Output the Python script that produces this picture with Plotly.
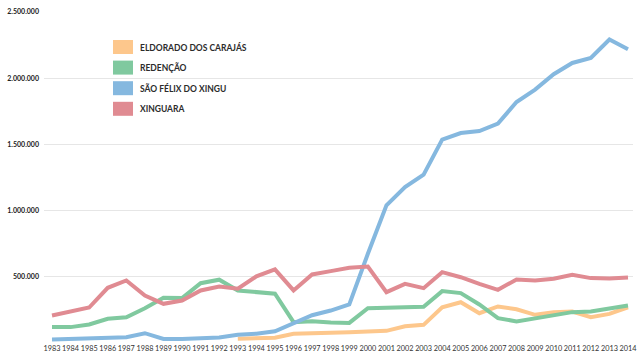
import plotly.graph_objects as go

years = list(range(1983, 2015))

eldorado = [None] * 10 + [32000, 39000, 40000, 70000, 72000, 77000, 82000, 87000, 92000,
                          127000, 137000, 270000, 308000, 225000, 276000, 255000, 213000,
                          233000, 238000, 195000, 220000, 270000]
redencao = [120000, 120000, 140000, 183000, 195000, 263000, 342000, 339000, 452000, 478000,
            397000, 384000, 372000, 157000, 165000, 155000, 152000, 263000, 266000, 274000,
            274000, 392000, 377000, 291000, 188000, 163000, 188000, 213000, 233000, 238000,
            258000, 283000]
sao_felix = [26000, 29000, 31000, 34000, 44000, 74000, 31000, 31000, 36000, 42000,
             62000, 70000, 88000, 150000, 210000, 245000, 291000, 674000, 1040000, 1178000,
             1272000, 1536000, 1586000, 1601000, 1657000, 1820000, 1914000, 2030000, 2115000,
             2153000, 2292000, 2219000]
xinguara = [208000, 240000, 268000, 417000, 472000, 359000, 296000, 321000, 397000, 427000,
            410000, 503000, 556000, 397000, 518000, 543000, 568000, 578000, 384000, 447000,
            414000, 535000, 497000, 447000, 402000, 480000, 472000, 485000, 515000, 490000,
            487000, 495000]

series_names = ["ELDORADO DOS CARAJÁS", "REDENÇÃO", "SÃO FÉLIX DO XINGU", "XINGUARA"]
series_values = [eldorado, redencao, sao_felix, xinguara]
colors = ["#fdc78c", "#80c99f", "#85b8df", "#e08b92"]

y_tickvals = [500000, 1000000, 1500000, 2000000, 2500000]
y_ticktext = ["500.000", "1.000.000", "1.500.000", "2.000.000", "2.500.000"]

W, H = 640, 361
ML, MR, MT, MB = 44, 7, 12, 18
PW, PH = W - ML - MR, H - MT - MB

fig = go.Figure()
for name, vals, col in zip(series_names, series_values, colors):
    fig.add_trace(go.Scatter(x=years, y=vals, mode="lines", name=name,
                             line=dict(color=col, width=4), showlegend=False,
                             hoverinfo="skip"))

# manual legend (squares + labels)
def px2paper(px, py):
    return (px - ML) / PW, (H - MB - py) / PH

for i, (name, col) in enumerate(zip(series_names, colors)):
    top = 40 + i * 20.6
    x0, y0 = px2paper(113, top)
    x1, y1 = px2paper(133, top + 14)
    fig.add_shape(type="rect", xref="paper", yref="paper", x0=x0, x1=x1, y0=y1, y1=y0,
                  fillcolor=col, line=dict(width=0), layer="above")
    tx, ty = px2paper(138, top + 7)
    fig.add_annotation(x=tx, y=ty, xref="paper", yref="paper", text="<b>%s</b>" % name,
                       showarrow=False, xanchor="left", yanchor="middle",
                       font=dict(family="Lato", size=8.5, color="#2b2b2b"))

span = 576 / 31
fig.update_layout(
    width=W, height=H,
    margin=dict(l=ML, r=MR, t=MT, b=MB),
    paper_bgcolor="white", plot_bgcolor="white",
    xaxis=dict(range=[1983 - 8 / span, 2014 + 5 / span], tickmode="array",
               tickvals=years, ticktext=[str(y) for y in years],
               showgrid=False, zeroline=False, showline=False, ticks="",
               tickangle=0, automargin=False,
               tickfont=dict(family="Lato", size=7.3, color="#333333"),
               ticklabelstandoff=0),
    yaxis=dict(range=[0, 2500000], tickmode="array", tickvals=y_tickvals,
               ticktext=y_ticktext, showgrid=True, gridcolor="#e6e6e6", gridwidth=1,
               zeroline=False, showline=False, ticks="", automargin=False,
               tickfont=dict(family="Lato", size=7, color="#222222", weight="bold"),
               ticklabelstandoff=4),
    font=dict(family="Lato"),
)

fig.write_html("out.html", config={"displayModeBar": False},
               post_script="document.body.style.margin='0px';document.body.style.overflow='hidden';")
